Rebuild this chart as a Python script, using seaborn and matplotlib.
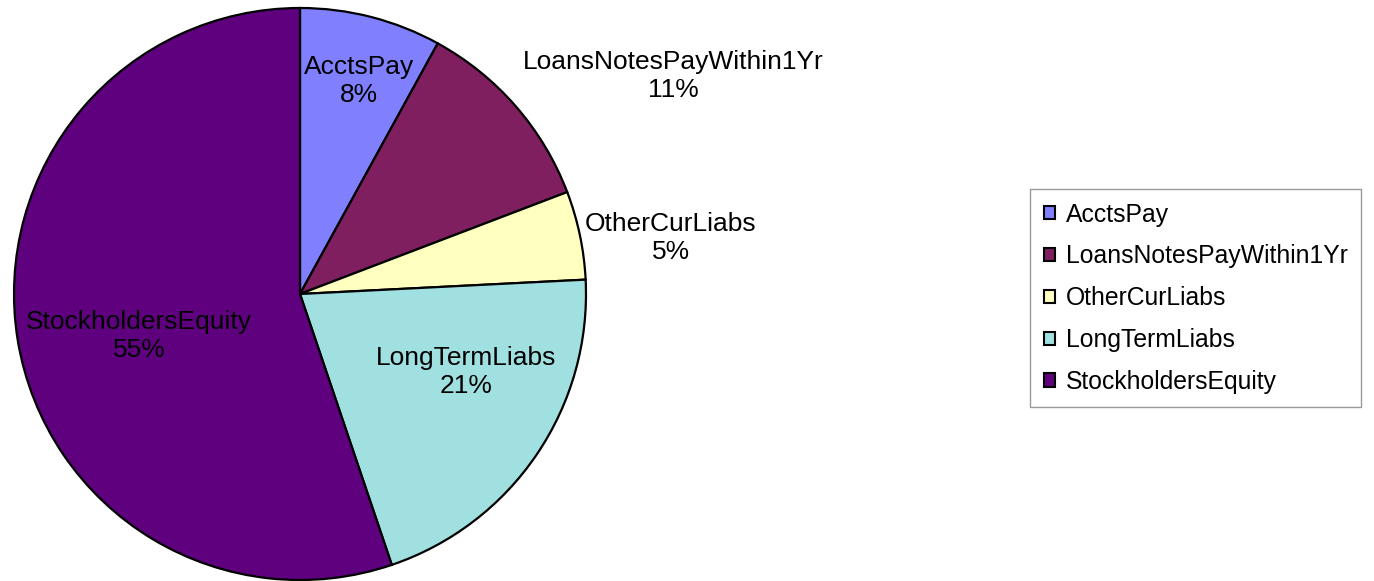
import matplotlib
matplotlib.use("Agg")
import matplotlib.pyplot as plt
import seaborn as sns

categories = ["AcctsPay", "LoansNotesPayWithin1Yr", "OtherCurLiabs", "LongTermLiabs", "StockholdersEquity"]
values = [8.0, 11.2, 5.0, 20.6, 55.2]
pct_labels = ["8%", "11%", "5%", "21%", "55%"]
colors = ["#8080FF", "#7F1F5F", "#FFFFC0", "#A0E0E0", "#5F007F"]

sns.set_theme(style="white")
plt.rcParams['font.family'] = ['Liberation Sans', 'DejaVu Sans']

W, H = 1374, 581
fig = plt.figure(figsize=(W / 100, H / 100), dpi=100)
ax = fig.add_axes([0, 0, 1, 1])

wedges, _ = ax.pie(values, colors=colors, startangle=90, counterclock=False,
                   center=(300, H - 294), radius=286, frame=True,
                   wedgeprops=dict(edgecolor="black", linewidth=1.6))
ax.set_xlim(0, W)
ax.set_ylim(0, H)
ax.set_aspect("equal")
ax.axis("off")

label_pos = [(359, 81), (673, 76), (671, 238), (466, 372), (139, 336)]
for (x, y), cat, p in zip(label_pos, categories, pct_labels):
    ax.text(x, H - y, f"{cat}\n{p}", ha="center", va="center", fontsize=19,
            color="black", linespacing=1.2)

leg = fig.legend(wedges, categories, loc="upper left",
                 bbox_to_anchor=(1030 / W, 1 - 189 / H), frameon=True,
                 fancybox=False, fontsize=17.8, handlelength=0.45, handleheight=0.45,
                 handletextpad=0.45, labelspacing=0.72, borderpad=0.55,
                 borderaxespad=0, labelcolor="black")
leg.get_frame().set_edgecolor("#808080")
leg.get_frame().set_linewidth(1.0)
for h in leg.legend_handles:
    h.set_linewidth(1.5)
    h.set_edgecolor("black")

fig.savefig("out.png", dpi=100)
